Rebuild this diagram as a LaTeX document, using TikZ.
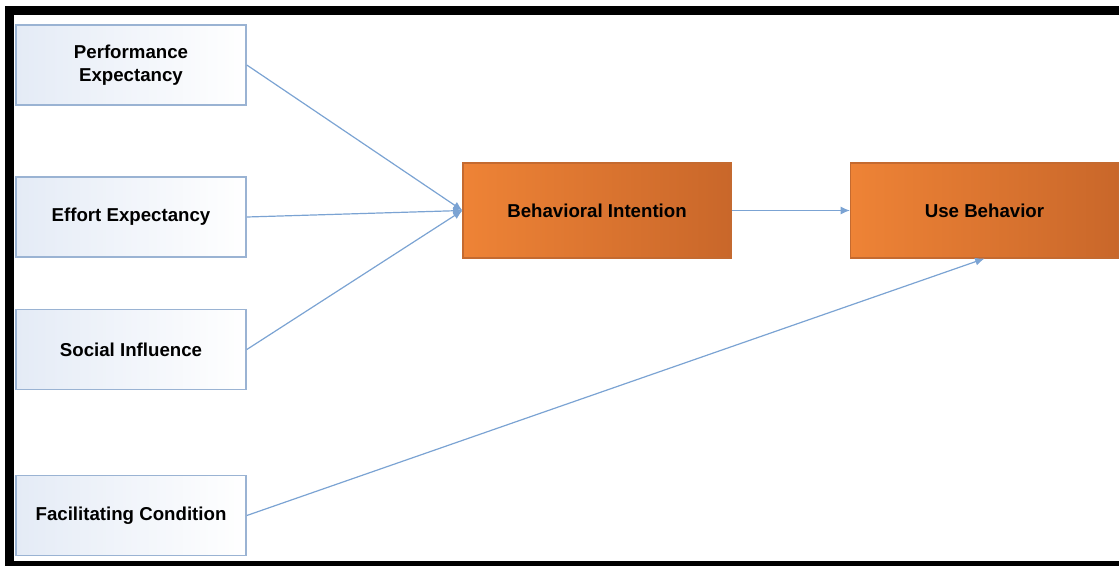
\documentclass[tikz,border=0pt]{standalone}
\usepackage{fontspec}
\setmainfont{Liberation Sans}
\usepackage{tikz}
\usetikzlibrary{arrows.meta}
\definecolor{boxline}{HTML}{9AB3D3}
\definecolor{boxfill}{HTML}{E4EBF6}
\definecolor{orangetop}{HTML}{EE8336}
\definecolor{orangebot}{HTML}{C9672A}
\definecolor{orangeline}{HTML}{C46A30}
\definecolor{arrowblue}{HTML}{7BA3D3}

\begin{document}
\begin{tikzpicture}[x=0.75pt,y=-0.75pt]
\useasboundingbox (0,0) rectangle (1119,565);
\begin{scope}
    \clip (0,0) rectangle (1119,565);
    \draw[line width=6.75pt] (9.5,10.5) rectangle (1130,565.5);
\end{scope}
\begin{scope}[every node/.style={align=center,font=\fontsize{14}{17}\selectfont\bfseries}]
    \tikzset{factor/.style={draw=boxline,line width=1.2pt,left color=boxfill,right color=white,
                            minimum width=172.5pt,minimum height=60pt},
             outcome/.style={draw=orangeline,line width=0.8pt,left color=orangetop,right color=orangebot,
                             minimum width=201pt,minimum height=71.25pt}}
    \node[factor] (perf) at (131,65) {Performance\\Expectancy};
    \node[factor] (effort) at (131,217) {Effort Expectancy};
    \node[factor] (social) at (131,349.5) {Social Influence};
    \node[factor] (facil) at (131,515.5) {Facilitating Condition};
    \node[outcome] (intent) at (597,210.5) {Behavioral Intention};
    \node[outcome] (usebeh) at (984.5,210.5) {Use Behavior};
\end{scope}
\begin{scope}[>={Latex[length=7pt,width=6pt]},
              every edge/.style={draw=arrowblue,line width=0.9pt}]
    \path [->] (perf.east) edge (intent.west);
    \path [->] (effort.east) edge (intent.west);
    \path [->] (social.east) edge (intent.west);
    \path [->] (intent.east) edge (usebeh.west);
    \path [->] (facil.east) edge (usebeh.south);
\end{scope}
\end{tikzpicture}
\end{document}
